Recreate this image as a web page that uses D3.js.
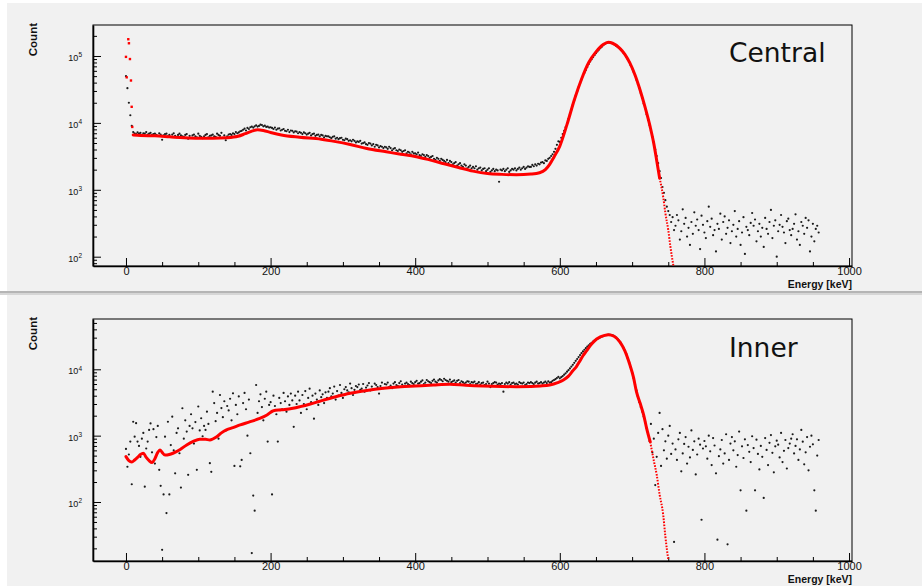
<!DOCTYPE html>
<html>
<head>
<meta charset="utf-8">
<script src="https://cdn.jsdelivr.net/npm/d3@7"></script>
<style>
  body { margin: 0; background: #fff; }
  svg { display: block; }
</style>
</head>
<body>
<svg width="922" height="586"></svg>
<script>
// histogram bins (keV): bin i sits at binStart + i * binStep
const binStart = 0, binStep = 2;

// Central detector, counts per bin
const centralCounts = [
  50000,33000,20000,13000,9000,7300,7000,6800,7200,6900,7100,6600,7000,6900,7300,6700,6900,7100,6600,6800,
  6900,6600,6400,7000,6700,5600,6500,6800,6900,6300,6600,6200,6700,7000,6400,6100,6600,6900,6500,6300,
  6200,6600,6800,5800,6400,6000,6500,6700,6300,6100,6900,6400,6200,5900,6300,6600,6800,6100,6400,6500,
  6700,6300,6200,6900,6600,6400,7100,6000,6500,5500,6300,6700,6800,6600,7000,6800,7300,7000,7200,7500,
  7600,7900,8200,7700,8400,8100,8600,8800,8500,8900,9200,8800,9000,9400,9300,8900,9100,8700,8800,8500,
  8600,8400,8100,8500,7900,8200,8300,7700,7900,8100,7600,7500,7900,7300,7700,7600,7200,7500,7400,7000,
  7300,7100,6800,7200,7000,6700,6900,7100,6500,6800,6900,6400,6600,6700,6300,6600,6500,6100,6400,6300,
  6300,6100,5900,6200,6300,5800,6000,5700,5900,6000,5600,5500,5800,5700,5400,5500,5300,5600,5400,5100,
  5300,5200,5400,4900,5000,5100,4800,4700,5000,4900,4600,4800,4400,4700,4600,4300,4500,4400,4200,4400,
  4300,4100,4400,4200,3900,4100,4200,3900,3800,4000,3900,3700,3800,3900,3500,3700,3600,3400,3700,3500,
  3500,3400,3600,3300,3200,3400,3300,3100,3300,3200,3000,3100,3200,2900,2800,3000,2900,2700,2900,2800,
  2700,2600,2800,2500,2700,2600,2400,2500,2600,2300,2400,2500,2300,2200,2400,2300,2100,2200,2300,2100,
  2200,2100,2250,2000,2100,2150,1950,2050,2100,1900,2000,2100,1850,1950,2050,1900,2000,1950,1320,2000,
  1950,2050,1900,2000,2100,1850,1950,2050,2000,2100,1950,2050,2150,2000,2100,2200,2050,2150,2250,2200,
  2200,2350,2250,2400,2300,2450,2400,2550,2600,2500,2750,2700,2900,3000,3200,3400,3700,4100,4700,5300,
  5200,6000,6800,7600,8600,9800,11500,13500,15800,18500,22000,25500,29500,34000,39000,44500,50000,56000,62000,68500,
  76000,83000,89000,96000,103000,110000,117000,124000,131000,137000,145000,150000,155000,158000,160000,159000,156000,152000,147000,141000,
  137000,132000,126000,119000,112000,105000,97000,89000,81000,73000,65000,58000,51000,44000,38000,33000,28000,23500,19500,16500,
  13500,11000,9300,7600,6200,5100,4000,3200,2500,1900,1500,1100,900,700,560,480,420,330,390,250,
  290,420,350,180,240,510,310,380,200,270,150,330,220,460,290,360,250,130,410,300,
  230,190,340,560,280,370,210,250,120,310,260,440,180,330,400,220,270,350,160,240,
  300,480,200,260,340,150,230,390,110,280,250,210,320,450,290,360,170,240,310,200,
  270,140,380,260,220,330,500,190,290,350,100,240,300,420,280,230,160,340,370,250,
  210,260,310,430,180,240,150,330,290,220,380,270,350,120,200,310,170,260,290,230
];

// Inner detector, counts per bin
const innerCounts = [
  630,340,520,815,185,1620,966,1540,815,700,480,900,1100,170,640,815,1220,1530,560,1250,
  380,950,1400,305,175,19,130,966,68,1620,130,720,1930,600,270,1100,1290,543,165,2590,
  900,1700,1150,257,1400,2100,1290,760,1600,305,2750,1200,1830,980,1400,1220,2300,1500,385,285,
  4600,3100,1650,2200,900,4100,2600,1900,3300,1200,2800,2400,3600,1700,4350,350,2900,2100,3900,345,
  430,3100,4400,2500,1000,3500,543,17,125,74,5800,2200,3300,4200,2700,1700,3600,4600,815,2900,
  3200,130,4000,2800,2100,815,3700,3100,2500,4400,3300,2300,3900,2900,4300,3400,1360,4000,3000,4600,
  3400,2200,4100,3000,4700,2500,3700,5100,3200,4000,1800,4300,3500,2900,4800,3800,4200,3100,4500,3700,
  4600,5200,3900,4300,5500,3500,4700,4000,5800,4400,3700,5000,5400,4800,4500,6100,5200,4100,4900,5600,
  5400,5900,4900,5100,6000,4600,5300,5700,6200,4800,5500,5000,6100,5800,5400,4300,5600,6300,5200,6000,
  5900,6300,5400,5700,5200,6100,6400,5800,5600,6200,6600,5900,5500,6100,6300,6000,5800,6500,6200,6000,
  6400,6700,6100,6200,6500,6800,6000,6300,6900,6600,6400,6200,6700,7000,6500,6300,6800,7100,6900,6600,
  7200,6900,6700,6500,7000,6400,6600,6800,6300,6700,6900,6200,6600,6400,6100,6300,6600,6500,6000,6400,
  6300,6500,6000,6100,6400,5900,6200,6300,5800,6000,6500,6100,5400,6000,6200,6400,6300,5900,6100,6000,
  6200,4600,6000,6300,6100,6400,5900,6200,6300,6000,6100,5900,6400,6200,6100,6300,5800,6000,6300,6200,
  6400,6200,6000,6300,6500,6100,6200,6400,6100,6300,6500,6200,6600,6300,6400,6700,6900,7100,7400,7700,
  7300,7600,7900,8300,8700,9200,9700,10300,11000,11700,12500,13400,14300,15300,16400,17500,18600,19700,20800,21900,
  23000,24100,25100,26100,27000,27900,28700,29500,30300,31000,31700,32300,32800,33100,33300,33200,32800,32100,31200,30100,
  28500,27000,25200,23300,21300,19200,17000,14800,12700,10700,8900,7300,5900,4800,3900,3200,2700,2300,1950,1600,
  1300,1050,830,1500,560,900,180,480,1100,2200,350,1250,600,820,450,1000,1400,530,760,25,
  620,430,880,1100,290,540,750,950,380,680,470,1200,610,820,260,520,900,730,54,640,
  830,690,450,1000,580,360,920,710,270,27,490,620,860,380,540,1050,23,430,760,950,
  600,820,340,510,1150,150,690,460,880,74,720,570,400,980,650,150,870,530,310,700,
  480,115,920,610,360,780,1020,550,280,690,840,730,470,1100,400,590,860,320,650,760,
  900,1050,540,700,880,430,620,1220,810,370,560,950,300,680,1000,740,150,74,500,860
];

// fit curves [keV, count]
const centralFit = [
  [10,6600],[20,6500],[40,6400],[60,6200],[80,6000],[100,5900],[120,5900],[140,6000],[155,6300],
  [165,6900],[175,7600],[182,7900],[190,7700],[200,7200],[215,6600],[240,6100],[270,5700],[290,5250],
  [310,4750],[333,4150],[360,3700],[380,3400],[400,3150],[420,2800],[440,2450],[460,2150],[480,1900],
  [500,1750],[520,1700],[540,1680],[560,1720],[572,1800],[580,2000],[586,2400],[592,3100],[600,4500],
  [610,9500],[620,22000],[630,45000],[640,80000],[650,115000],[660,148000],[667,160000],[673,155000],
  [683,130000],[690,106000],[697,78000],[704,52000],[711,31000],[718,17000],[725,8700],[730,4900],
  [734,2750],[738,1500],[743,780],[746,450],[750,250],[753,140],[757,74]
];
// first few bins of the Central fit, drawn as loose markers
const centralSpike = [
  [0,97000],[1,48000],[3.2,178000],[4.1,155000],[5.5,90000],[6.9,43000],[7.9,17400],[8.7,8700]
];
const innerFit = [
  [0,483],[4,420],[8,400],[12,430],[16,470],[20,520],[24,543],[28,470],[32,420],[36,393],[40,450],
  [44,560],[47,610],[50,560],[54,510],[60,520],[65,543],[75,620],[84,725],[93,820],[102,885],[110,880],
  [116,860],[125,950],[132,1100],[139,1220],[148,1320],[158,1450],[170,1600],[185,1820],[195,2050],
  [204,2380],[215,2450],[231,2590],[241,2740],[255,3000],[268,3300],[290,3850],[310,4350],[333,4800],
  [356,5170],[380,5450],[400,5600],[425,5800],[448,5950],[470,5750],[494,5600],[520,5500],[540,5470],
  [560,5500],[573,5600],[586,5800],[597,6300],[605,6900],[612,7900],[618,9500],[623,11000],[628,13500],
  [632,16000],[637,19000],[644,24000],[651,28600],[656,30800],[662,32500],[667,33200],[675,31500],
  [683,26000],[690,19000],[697,11600],[702,7500],[706,4600],[711,3100],[716,2040],[720,1300],[725,810],
  [730,420],[734,257],[738,130],[743,64],[746,30],[750,13.5]
];

const xTicks = [0, 200, 400, 600, 800, 1000];
const xMinorTicks = [50, 100, 150, 250, 300, 350, 450, 500, 550, 650, 700, 750, 850, 900, 950];
const xTitle = "Energy [keV]";
const yTitle = "Count";

const svg = d3.select("svg");
const font = "'Liberation Sans', Arial, sans-serif";

// pads
svg.append("rect").attr("x", 7).attr("y", 3).attr("width", 915).attr("height", 288).attr("fill", "#f1f1f1");
svg.append("rect").attr("x", 0).attr("y", 291).attr("width", 922).attr("height", 2).attr("fill", "#b5b5b5");
svg.append("rect").attr("x", 0).attr("y", 293).attr("width", 922).attr("height", 2).attr("fill", "#d6d6d6");
svg.append("rect").attr("x", 7).attr("y", 295).attr("width", 915).attr("height", 291).attr("fill", "#f1f1f1");

const left = 93, right = 852;
const x = d3.scaleLinear().domain([-45.6, 1004.1]).range([left, right]);

function drawPanel(p) {
  const y = d3.scaleLog().domain(p.yDomain).range([p.bottom, p.top]);
  const g = svg.append("g");

  // frame
  g.append("rect")
    .attr("x", left).attr("y", p.top)
    .attr("width", right - left).attr("height", p.bottom - p.top)
    .attr("fill", "none").attr("stroke", "#000").attr("stroke-width", 1);

  // x axis
  g.append("g")
    .attr("transform", `translate(0,${p.bottom})`)
    .call(d3.axisBottom(x).tickValues(xMinorTicks).tickSize(-4).tickSizeOuter(0).tickFormat(""))
    .call(a => a.select(".domain").remove());
  const xa = g.append("g")
    .attr("transform", `translate(0,${p.bottom})`)
    .call(d3.axisBottom(x).tickValues(xTicks).tickSizeInner(-8).tickSizeOuter(0)
      .tickPadding(1).tickFormat(d3.format("d")));
  xa.select(".domain").attr("stroke-width", 1.6);
  xa.selectAll(".tick text").attr("font-family", font).attr("font-size", "11px").attr("fill", "#111");

  // y axis
  const lo = Math.floor(Math.log10(p.yDomain[0])), hi = Math.ceil(Math.log10(p.yDomain[1]));
  const majors = [], minors = [];
  for (let e = lo; e <= hi; e++) {
    const v = Math.pow(10, e);
    if (v >= p.yDomain[0] && v <= p.yDomain[1]) majors.push(v);
    for (let k = 2; k <= 9; k++) {
      const m = k * v;
      if (m >= p.yDomain[0] && m <= p.yDomain[1]) minors.push(m);
    }
  }
  g.append("g")
    .attr("transform", `translate(${left},0)`)
    .call(d3.axisLeft(y).tickValues(minors).tickSize(-4).tickSizeOuter(0).tickFormat(""))
    .call(a => a.select(".domain").remove());
  const ya = g.append("g")
    .attr("transform", `translate(${left},0)`)
    .call(d3.axisLeft(y).tickValues(majors).tickSizeInner(-8).tickSizeOuter(0).tickPadding(11));
  ya.select(".domain").attr("stroke-width", 1.6);
  ya.selectAll(".tick text").each(function(d) {
    const t = d3.select(this).text(null)
      .attr("font-family", font).attr("font-size", "9px").attr("fill", "#111").attr("dy", "0.5em");
    t.append("tspan").text("10");
    t.append("tspan").attr("dy", "-0.55em").attr("font-size", "6.5px").text(Math.round(Math.log10(d)));
  });

  // axis titles
  g.append("text")
    .attr("transform", `translate(37,${p.top - 2}) rotate(-90)`)
    .attr("text-anchor", "end")
    .attr("font-family", font).attr("font-weight", "bold").attr("font-size", "11.5px").attr("fill", "#111")
    .text(yTitle);
  g.append("text")
    .attr("x", right).attr("y", p.bottom + 22)
    .attr("text-anchor", "end")
    .attr("font-family", font).attr("font-weight", "bold").attr("font-size", "10.5px").attr("fill", "#111")
    .text(xTitle);

  // data points
  g.append("g").selectAll("circle")
    .data(p.counts)
    .join("circle")
    .attr("cx", (d, i) => x(binStart + i * binStep))
    .attr("cy", d => y(d))
    .attr("r", 1.1)
    .attr("fill", "#1a1a1a");

  // fit
  const line = d3.line().x(d => x(d[0])).y(d => y(d[1])).curve(d3.curveMonotoneX);
  g.append("path")
    .datum(p.fit.filter(d => d[0] <= p.tailFrom))
    .attr("d", line)
    .attr("fill", "none").attr("stroke", "#ff0000").attr("stroke-width", 3)
    .attr("stroke-linejoin", "round").attr("stroke-linecap", "round");
  g.append("path")
    .datum(p.fit.filter(d => d[0] >= p.tailFrom))
    .attr("d", line)
    .attr("fill", "none").attr("stroke", "#ff0000").attr("stroke-width", 2)
    .attr("stroke-dasharray", "1.6 1.4");
  g.append("g").selectAll("rect")
    .data(p.spike)
    .join("rect")
    .attr("x", d => x(d[0]) - 1.2).attr("y", d => y(d[1]) - 1.2)
    .attr("width", 2.4).attr("height", 2.4)
    .attr("fill", "#ff0000");

  // label
  g.append("text")
    .attr("x", 729).attr("y", p.titleY)
    .attr("font-family", "'DejaVu Sans', sans-serif").attr("font-size", "26.5px").attr("fill", "#111")
    .text(p.title);
}

drawPanel({top: 25, bottom: 266, yDomain: [72.6, 290500], counts: centralCounts, fit: centralFit,
           spike: centralSpike, tailFrom: 738, title: "Central", titleY: 62});
drawPanel({top: 319, bottom: 561, yDomain: [12.9, 57300], counts: innerCounts, fit: innerFit,
           spike: [], tailFrom: 725, title: "Inner", titleY: 357});
</script>
</body>
</html>
